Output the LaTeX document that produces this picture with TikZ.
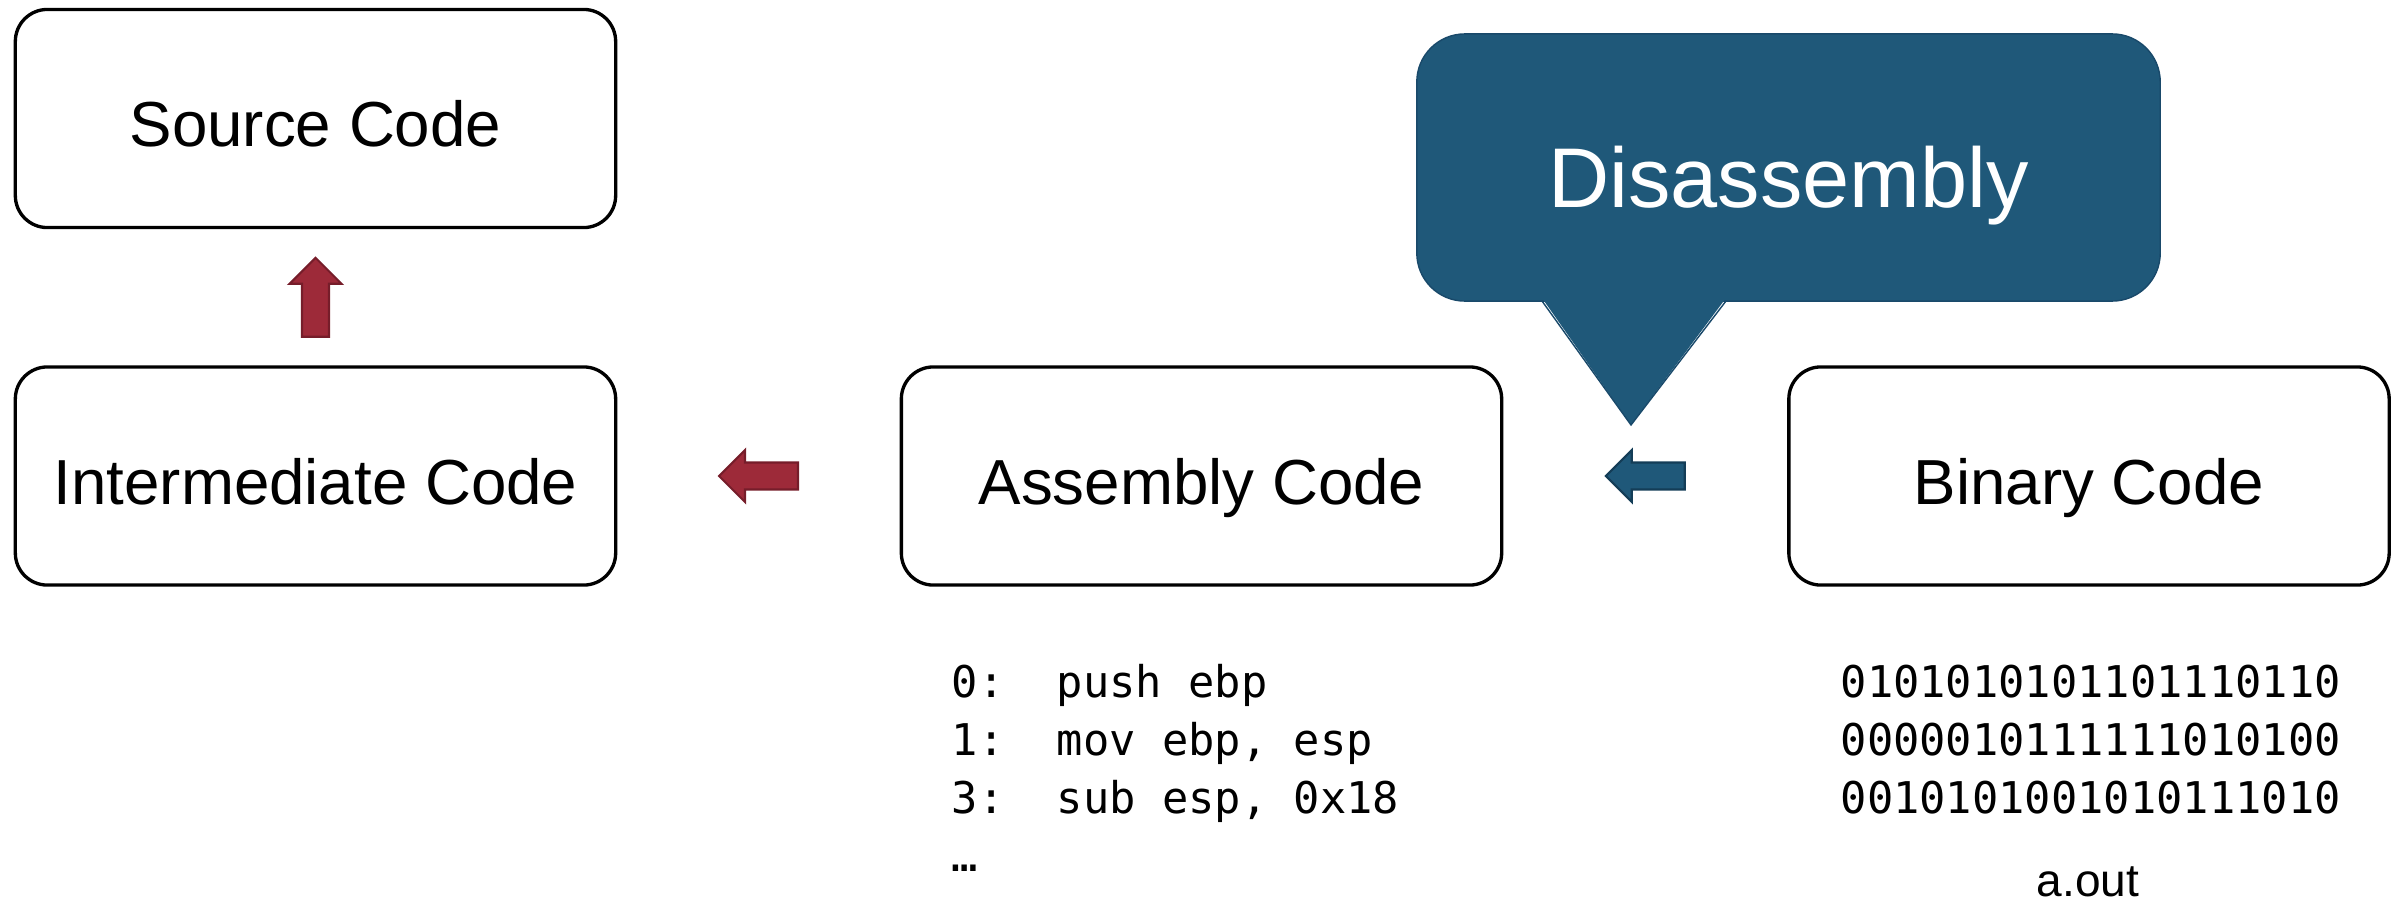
\documentclass[tikz,border=0pt]{standalone}
\usepackage{fontspec}
\setmainfont{Liberation Sans}
\setmonofont{DejaVu Sans Mono}
\usetikzlibrary{calc}

\definecolor{bubbleblue}{HTML}{1F5879}
\definecolor{bubbleedge}{HTML}{19496A}
\definecolor{arrowred}{HTML}{9D2A39}
\definecolor{arrowrededge}{HTML}{761D2A}
\definecolor{arrowblueedge}{HTML}{143D57}

\tikzset{
  codebox/.style={draw, fill=white, line width=0.95pt, rounded corners=0.32cm,
    minimum width=6.0cm, minimum height=2.18cm, inner sep=0pt,
    font=\fontsize{18.1}{22}\selectfont, text height=16.2pt, text depth=0pt},
  bubble/.style={draw=bubbleedge, fill=bubbleblue, line width=0.4pt, rounded corners=0.48cm,
    minimum width=7.43cm, minimum height=2.67cm, inner sep=0pt, text=white,
    font=\fontsize{24.1}{29}\selectfont, text height=23pt, text depth=0pt},
  listing/.style={anchor=base west, inner sep=0pt, font=\ttfamily\fontsize{12.43}{15}\selectfont},
  redarrow/.style={fill=arrowred, draw=arrowrededge, line width=0.6pt},
  bluearrow/.style={fill=bubbleblue, draw=arrowblueedge, line width=0.6pt},
  blockarrow/.pic={
    \path[pic actions] (-39.5,0) -- (-13.5,-26) -- (-13.5,-13.5) -- (39.5,-13.5)
      -- (39.5,13.5) -- (-13.5,13.5) -- (-13.5,26) -- cycle;
  }
}

\begin{document}
\begin{tikzpicture}[x=0.01cm, y=-0.01cm]
\useasboundingbox (0,0) rectangle (2397,903);

% the four stages
\node[codebox] (src) at (315.5,118.5) {Source Code};
\node[codebox] (inter) at (315.5,476) {Intermediate Code};
\node[codebox] (asm) at (1201.5,476) {Assembly Code};
\node[codebox] (bin) at (2089,476) {Binary Code};

% arrows between the stages
\coordinate (m0) at ($(src.south)!0.5!(inter.north)$);
\coordinate (m1) at ($(inter.east)!0.5!(asm.west)$);
\coordinate (m2) at ($(asm.east)!0.5!(bin.west)$);
\pic[redarrow, rotate=-90] at (m0) {blockarrow};
\pic[redarrow] at (m1) {blockarrow};
\pic[bluearrow] at (m2) {blockarrow};

% speech bubble
\node[bubble] (dis) at (1788.5,167.5) {Disassembly};
\coordinate (tip) at (1631,425);
\fill[bubbleblue] (1542,298) -- (tip) -- (1726,298) -- cycle;
\draw[bubbleedge, line width=0.4pt] (1542,301) -- (tip) -- (1726,301);

% code under the boxes
\foreach \txt [count=\i from 0] in {{0:\ \ push ebp},{1:\ \ mov ebp, esp},{3:\ \ sub esp, 0x18},{…}}
  \node[listing] (asm\i) at (951,697+58*\i) {\txt};

\foreach \bits [count=\i from 0] in {0101010101101110110,0000010111111010100,0010101001010111010}
  \node[listing] (bin\i) at (1840,697+58*\i) {\bits};

\node[anchor=base, inner sep=0pt, font=\fontsize{13.1}{16}\selectfont] (aout) at (2088,896) {a.out};

\end{tikzpicture}
\end{document}
